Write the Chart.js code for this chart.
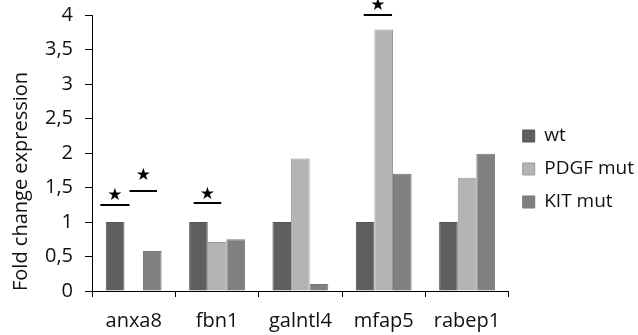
<!DOCTYPE html>
<html>
<head>
<meta charset="utf-8">
<script src="https://cdn.jsdelivr.net/npm/chart.js@4.4.0/dist/chart.umd.min.js"></script>
<style>
  html, body { margin: 0; padding: 0; background: #fff; }
  #wrap { width: 638px; height: 335px; }
</style>
</head>
<body>
<div id="wrap"><canvas id="chart" width="638" height="335"></canvas></div>
<script>
const genes = ['anxa8', 'fbn1', 'galntl4', 'mfap5', 'rabep1'];
const wtValues = [1, 1, 1, 1, 1];
const pdgfValues = [0, 0.71, 1.92, 3.79, 1.64];
const kitValues = [0.58, 0.75, 0.1, 1.70, 1.99];
const yTicks = [0, 0.5, 1, 1.5, 2, 2.5, 3, 3.5, 4];

// significance marks: category index, bar level, star level
const sigCategory = [0, 0, 1, 3];
const sigLineLevel = [1.24, 1.45, 1.28, 4.0];
const sigStarLevel = [1.38, 1.68, 1.40, 4.14];
// horizontal span of each bar, as a fraction of the category width from its centre
const sigSpan = [[-0.40, -0.05], [-0.05, 0.28], [-0.28, 0.05], [-0.24, 0.10]];

const FONT = "'Open Sans', sans-serif";

const sigPlugin = {
    id: 'sigMarks',
    afterDatasetsDraw(chart) {
        const { ctx, scales: { x, y } } = chart;
        const catW = x.width / genes.length;
        ctx.save();
        ctx.strokeStyle = '#000';
        ctx.fillStyle = '#000';
        ctx.lineWidth = 2;
        ctx.font = '17px "DejaVu Sans"';
        ctx.textAlign = 'center';
        ctx.textBaseline = 'middle';
        sigCategory.forEach((c, i) => {
            const cx = x.getPixelForValue(c);
            const x0 = cx + sigSpan[i][0] * catW;
            const x1 = cx + sigSpan[i][1] * catW;
            const ly = Math.round(y.getPixelForValue(sigLineLevel[i]));
            ctx.beginPath();
            ctx.moveTo(x0, ly);
            ctx.lineTo(x1, ly);
            ctx.stroke();
            ctx.fillText('\u2605', (x0 + x1) / 2, y.getPixelForValue(sigStarLevel[i]));
        });
        ctx.restore();
    }
};

const ctx = document.getElementById('chart').getContext('2d');
new Chart(ctx, {
    type: 'bar',
    data: {
        labels: genes,
        datasets: [
            { label: 'wt', data: wtValues, backgroundColor: '#5f5f5f', borderColor: '#555555', borderWidth: 1 },
            { label: 'PDGF mut', data: pdgfValues, backgroundColor: '#b4b4b4', borderColor: '#999999', borderWidth: 1 },
            { label: 'KIT mut', data: kitValues, backgroundColor: '#808080', borderColor: '#777777', borderWidth: 1 }
        ]
    },
    options: {
        responsive: false,
        animation: false,
        layout: { padding: { left: 6, right: -6, top: -12, bottom: -15 } },
        datasets: {
            bar: { categoryPercentage: 0.67, barPercentage: 1.0 }
        },
        plugins: {
            legend: {
                position: 'right',
                labels: {
                    boxWidth: 12,
                    boxHeight: 12,
                    padding: 14,
                    color: '#111',
                    font: { family: FONT, size: 19 }
                }
            },
            tooltip: { enabled: false }
        },
        scales: {
            x: {
                afterFit: s => { s.height = 59; },
                grid: {
                    offset: true,
                    drawOnChartArea: false,
                    drawTicks: true,
                    tickLength: 6,
                    color: '#000'
                },
                border: { display: true, color: '#000', width: 1 },
                ticks: {
                    color: '#111',
                    padding: 12,
                    font: { family: FONT, size: 20 }
                }
            },
            y: {
                min: 0,
                max: 4,
                afterBuildTicks: axis => { axis.ticks = yTicks.map(v => ({ value: v })); },
                afterFit: s => { s.paddingTop = 15; },
                grid: {
                    drawOnChartArea: false,
                    drawTicks: true,
                    tickLength: 7,
                    color: '#000'
                },
                border: { display: true, color: '#000', width: 1 },
                ticks: {
                    color: '#111',
                    padding: 12,
                    font: { family: FONT, size: 20 },
                    callback: v => String(v).replace('.', ',')
                },
                title: {
                    display: true,
                    text: 'Fold change expression',
                    align: 'start',
                    color: '#111',
                    padding: { top: 3, bottom: 0 },
                    font: { family: FONT, size: 20 }
                }
            }
        }
    },
    plugins: [sigPlugin]
});
</script>
</body>
</html>
